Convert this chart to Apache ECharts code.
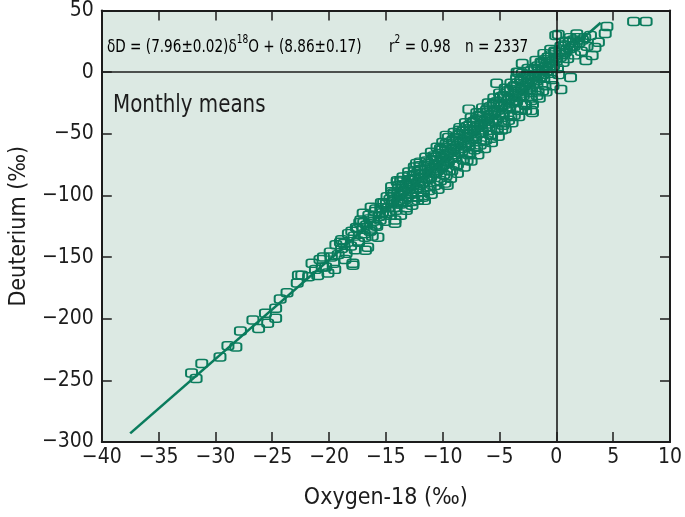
<!DOCTYPE html>
<html>
<head>
<meta charset="utf-8">
<script src="https://cdn.jsdelivr.net/npm/echarts/dist/echarts.min.js"></script>
<style>
html,body{margin:0;padding:0;background:#fff;}
#chart{width:685px;height:517px;}
</style>
</head>
<body>
<div id="chart"></div>
<script>
// ---- data ----
var xTicks = [-40, -35, -30, -25, -20, -15, -10, -5, 0, 5, 10];
var yTicks = [-300, -250, -200, -150, -100, -50, 0, 50];

// monthly means: oxygen-18 (‰) and deuterium (‰), hand-estimated (sparse + outliers)
var oxygen18 = [
-32.1,-31.7,-31.2,-29.6,-28.9,-28.2,-27.8,-26.7,-26.2,-25.6,-25.4,-24.7,-24.3,-24.7,-23.7,-22.8,-22.7,-22.4,-21.5,-20.1,
-19.8,-18.9,-17.9,-18.9,-17.0,-15.7,-16.6,-17.0,-15.2,-14.3,-14.0,-16.8,-17.9,-14.2,-11.75,-7.85,-16.3,-13.7,-12.3,-9.7,
-8.55,-9.6,-5.25,-2.1,-4.8,-5.7,-7.7,6.8,7.9,4.45,4.3,3.7,3.15,3.0,1.25,0.4,-0.05,-2.2,-3.3,0.17,
-0.5,-1.1,3.4,2.6,-1.8,-3.0,-3.45,
-21.8,-21.2,-20.8,-21.0,-20.6,
-20.5,-20.3,-19.9,-19.6,-19.4,-19.2,-18.7,-18.5,-18.3,-18.1,-17.8,-17.6,-17.4,-17.2,-16.9,-16.7,-16.5,-16.3,-16.1,-15.9,
-15.8,-15.6,-15.4,-15.3,-15.1,-14.9,-14.8,-14.6,-14.5,-14.4,
-14.1,-13.9,-13.8,-13.7,-13.5,-13.4,-13.3,-13.2,-13.0,-12.9,-12.8,-12.7,-12.5,-12.4,-12.3,-12.2,-12.0,-11.9,-11.8,-11.7,
-11.6,-11.4,-11.3,-11.2,-11.1,-11.0,-10.8,-10.7,-10.6,-10.5,-10.4,-10.2,-10.1,-10.0,-9.9,-9.8,
-9.7,-9.6,-9.5,-9.4,-9.3,-9.1,-9.0,-8.9,-8.8,-8.7,-8.5,-8.4,-8.3,-8.2,-8.1,-7.9,-7.8,-7.7,-7.6,-7.5,
-7.3,-7.2,-7.1,-7.0,-6.9,-6.7,-6.6,-6.5,-6.4,-6.3,-6.1,-6.0,-5.9,-5.8,-5.7,
-5.5,-5.4,-5.3,-5.2,-5.1,-4.9,-4.8,-4.7,-4.6,-4.5,-4.3,-4.2,-4.1,-4.0,-3.9,-3.7,-3.6,-3.5,-3.4,-3.3,
-3.1,-3.0,-2.9,-2.8,-2.7,-2.5,-2.4,-2.3,-2.2,-2.1,
-1.9,-1.8,-1.7,-1.6,-1.5,-1.3,-1.2,-1.1,-1.0,-0.9,-0.7,-0.6,-0.5,-0.4,-0.3,-0.1,0.0,0.1,0.2,0.4,
0.5,0.6,0.8,0.9,1.0,1.2,1.4,1.6,1.8,2.0,2.2,2.5,2.7
];
var deuterium = [
-244,-248.5,-236.3,-231,-222,-223,-210,-201,-208,-195.6,-203.6,-199.6,-184,-191.5,-179,-171,-164.7,-164.7,-155,-163,
-150,-143,-155,-136,-126,-134,-142,-114.5,-106,-98,-88,-144.5,-156.6,-122.6,-101.5,-71.6,-109.6,-87.8,-74,-51.3,
-47.2,-91.8,-9,-32.7,-47,-53.7,-30,41,41,37,31.4,24.3,13.5,29.7,-4.3,-14,29.7,-31,-0.2,30.5,
18.4,15,20,9.5,9.5,7,0,
-166,-160,-152,-165,-158,
-150,-158,-146,-155,-140,-148,-139,-147,-131,-141,-133,-126,-138,-120,-131,-124,-116,-128,-121,-111,
-125,-117,-106,-114,-121,-101,-110,-116,-97,-105,
-112,-92,-100,-107,-88,-96,-103,-110,-84,-92,-99,-105,-80,-87,-94,-101,-76,-83,-90,-97,
-104,-72,-79,-86,-93,-99,-68,-75,-82,-89,-95,-62,-69,-76,-83,-90,
-58,-66,-73,-80,-86,-55,-62,-69,-76,-82,-50,-57,-64,-71,-77,-44,-52,-59,-66,-72,
-40,-47,-54,-61,-67,-35,-42,-49,-56,-62,-30,-37,-44,-51,-57,
-25,-32,-39,-46,-52,-20,-27,-34,-41,-46,-15,-22,-29,-36,-41,-11,-17,-24,-31,-36,
-6,-12,-19,-26,-31,-2,-8,-14,-21,-26,
3,-3,-9,-16,-21,7,1,-5,-11,-16,12,5,-1,-6,-11,16,9,3,-2,21,
14,8,25,18,11,28,21,14,31,24,17,28,21
];

// extra hand-read points filling the dense part of the band
var oxygen18Dense = [
-17.5,-17.45,-16.95,-16.85,-16.45,-16.4,-15.95,-15.9,-15.45,-15.5,-14.95,-15.0,-14.65,-14.7,-14.35,-14.25,
-13.95,-14.0,-13.85,-13.6,-13.65,-13.55,-13.25,-13.3,-13.15,-12.85,-12.95,-12.75,-12.6,-12.55,-12.65,
-12.25,-12.15,-12.35,-11.95,-11.85,-12.05,-11.55,-11.5,-11.65,-11.25,-11.15,-11.35,-10.95,-10.85,-11.05,
-10.65,-10.55,-10.75,-10.35,-10.25,-10.45,-10.05,-9.95,-10.15,-9.75,-9.65,-9.85,-9.45,-9.35,-9.55,
-9.15,-9.05,-9.25,-8.85,-8.75,-8.95,-8.6,-8.45,-8.65,-8.25,-8.15,-8.35,-7.95,-7.85,-8.05,
-7.65,-7.55,-7.75,-7.35,-7.25,-7.45,-7.05,-6.95,-7.15,-6.75,-6.65,-6.85,-6.45,-6.35,-6.55,
-6.15,-6.05,-6.25,-5.85,-5.75,-5.95,-5.55,-5.45,-5.65,-5.25,-5.15,-5.35,-4.95,-4.85,-5.05,
-4.65,-4.55,-4.75,-4.35,-4.25,-4.45,-4.05,-3.95,-4.15,-3.75,-3.65,-3.85,-3.45,-3.35,-3.55,
-3.15,-3.05,-3.25,-2.85,-2.75,-2.95,-2.55,-2.45,-2.65,-2.25,-2.15,-2.35,-1.95,-1.85,-2.05,
-1.65,-1.55,-1.75,-1.35,-1.25,-1.45,-1.05,-0.95,-1.15,-0.75,-0.65,-0.85,-0.45,-0.35,-0.55,
-0.15,-0.05,-0.25,0.3,0.35,0.7,0.75,1.1,1.15,1.5,1.55,1.9,2.3
];
var deuteriumDense = [
-127,-137,-122,-134,-119,-129,-113,-124,-110,-120,-106,-116,-103,-113,-101,-110,
-97,-107,-104,-93,-99,-105,-91,-97,-101,-87,-95,-90,-84,-91,-97,
-82,-89,-95,-79,-86,-92,-76,-82,-89,-74,-81,-87,-71,-78,-85,
-69,-76,-82,-66,-73,-80,-63,-70,-77,-61,-68,-75,-58,-65,-72,
-56,-63,-70,-53,-60,-67,-51,-58,-65,-48,-55,-62,-46,-53,-60,
-43,-50,-57,-41,-48,-55,-38,-45,-52,-36,-43,-50,-33,-40,-47,
-31,-38,-45,-28,-35,-42,-26,-33,-40,-24,-31,-38,-21,-28,-35,
-19,-26,-33,-16,-23,-30,-14,-21,-28,-12,-19,-25,-9,-16,-23,
-7,-14,-20,-4,-11,-17,-2,-9,-15,1,-6,-12,2,-4,-10,
5,-1,-7,8,2,-4,10,4,-2,12,7,1,14,9,3,
17,11,5,18,12,22,16,24,19,26,21,28,26
];

// hand-read points along the upper-left and lower-right edges of the band
var oxygen18Edge = [
-14.5,-14.0,-13.5,-13.0,-12.5,-12.0,-11.5,-11.0,-10.5,-10.0,-9.5,-9.0,-8.5,-8.0,-7.5,-7.0,-6.5,-6.0,-5.5,-5.0,
-4.5,-4.0,-3.5,-3.0,-2.5,-19.0,-18.0,-17.3,
-14.2,-13.7,-13.2,-12.7,-12.2,-11.7,-11.2,-10.7,-10.2,-9.7,-9.2,-8.7,-8.2,-7.7,-7.2,-6.7,-6.2,-5.7,-5.2,-4.7,
-4.2,-3.7,-3.2,-2.7,-2.2,-1.7,-1.2,-19.5,-18.6,-17.7,-16.2
];
var deuteriumEdge = [
-93,-89,-85,-81,-77,-73,-69,-65,-61,-57,-53,-49,-45,-41,-37,-33,-29,-25,-21,-17,
-13,-9,-5,-1,3,-138,-129,-122,
-120,-116,-112,-108,-104,-100,-96,-92,-88,-84,-80,-75,-71,-67,-63,-59,-55,-51,-47,-43,
-39,-35,-31,-27,-23,-19,-15,-160,-152,-144,-133
];

// fitted line end points as drawn in the picture
var fitOxygen = [-37.5, 3.9];
var fitDeuterium = [-293, 40];

function pair(xs, ys) { return xs.map(function (x, i) { return [x, ys[i]]; }); }
var points = pair(oxygen18, deuterium)
  .concat(pair(oxygen18Dense, deuteriumDense))
  .concat(pair(oxygen18Edge, deuteriumEdge));
var fitLine = pair(fitOxygen, fitDeuterium);

var FONT = '"DejaVu Sans Condensed", "Liberation Sans Narrow", sans-serif';
var GREEN = '#0a7c5d';
var INK = '#1c1c1c';
function minus(v) { return String(v).replace('-', '\u2212'); }

var richEq = {
  a: {fontFamily: FONT, fontSize: 18, color: INK, verticalAlign: 'bottom', lineHeight: 22},
  s: {fontFamily: FONT, fontSize: 12, color: INK, verticalAlign: 'top', lineHeight: 22, padding: [0, 0, 10, 0]}
};

var chart = echarts.init(document.getElementById('chart'), null, {renderer: 'canvas'});
chart.setOption({
  animation: false,
  backgroundColor: '#ffffff',
  grid: {left: 97, right: 12, top: 10, bottom: 75, show: true, backgroundColor: '#dce9e3', borderWidth: 0},
  xAxis: [{
    type: 'value', min: xTicks[0], max: xTicks[xTicks.length - 1], interval: 5,
    name: 'Oxygen-18 (\u2030)', nameLocation: 'middle', nameGap: 45,
    nameTextStyle: {fontFamily: FONT, fontSize: 23, color: INK},
    axisLine: {show: true, onZero: false, lineStyle: {color: INK, width: 2}},
    axisTick: {show: true, inside: true, length: 10, lineStyle: {color: INK, width: 1.5}},
    axisLabel: {fontFamily: FONT, fontSize: 21, color: INK, margin: 5, formatter: minus},
    splitLine: {show: false}
  }, {
    type: 'value', position: 'top', min: xTicks[0], max: xTicks[xTicks.length - 1], interval: 5,
    axisLine: {show: true, onZero: false, lineStyle: {color: INK, width: 2}},
    axisTick: {show: true, inside: true, length: 10, lineStyle: {color: INK, width: 1.5}},
    axisLabel: {show: false}, splitLine: {show: false}
  }],
  yAxis: [{
    type: 'value', min: yTicks[0], max: yTicks[yTicks.length - 1], interval: 50,
    name: 'Deuterium (\u2030)', nameLocation: 'middle', nameGap: 68, nameRotate: 90,
    nameTextStyle: {fontFamily: FONT, fontSize: 23, color: INK},
    axisLine: {show: true, onZero: false, lineStyle: {color: INK, width: 2}},
    axisTick: {show: true, inside: true, length: 10, lineStyle: {color: INK, width: 1.5}},
    axisLabel: {fontFamily: FONT, fontSize: 21, color: INK, margin: 8, formatter: minus},
    splitLine: {show: false}
  }, {
    type: 'value', position: 'right', min: yTicks[0], max: yTicks[yTicks.length - 1], interval: 50,
    axisLine: {show: true, onZero: false, lineStyle: {color: INK, width: 2}},
    axisTick: {show: true, inside: true, length: 10, lineStyle: {color: INK, width: 1.5}},
    axisLabel: {show: false}, splitLine: {show: false}
  }],
  series: [{
    type: 'scatter',
    data: points,
    symbol: 'roundRect',
    symbolSize: [11, 8],
    itemStyle: {color: 'rgba(0,0,0,0)', borderColor: GREEN, borderWidth: 1.7, opacity: 1},
    z: 3
  }, {
    type: 'line',
    data: fitLine,
    symbol: 'none',
    lineStyle: {color: GREEN, width: 2.6},
    z: 4,
    markLine: {
      silent: true, symbol: 'none', label: {show: false},
      lineStyle: {color: INK, width: 1.6, type: 'solid'},
      data: [{xAxis: 0}, {yAxis: 0}]
    }
  }],
  graphic: [{
    type: 'text', x: 107, y: 34, scaleX: 0.84, z: 10,
    style: {text: '{a|\u03b4D = (7.96\u00b10.02)\u03b4}{s|18}{a|O + (8.86\u00b10.17)}', rich: richEq}
  }, {
    type: 'text', x: 389, y: 34, scaleX: 0.84, z: 10,
    style: {text: '{a|r}{s|2}{a| = 0.98}', rich: richEq}
  }, {
    type: 'text', x: 465, y: 34, scaleX: 0.84, z: 10,
    style: {text: '{a|n = 2337}', rich: richEq}
  }, {
    type: 'text', x: 113, y: 94, scaleX: 0.92, z: 10,
    style: {text: 'Monthly means', fontFamily: FONT, fontSize: 24, fill: INK}
  }]
});
</script>
</body>
</html>
